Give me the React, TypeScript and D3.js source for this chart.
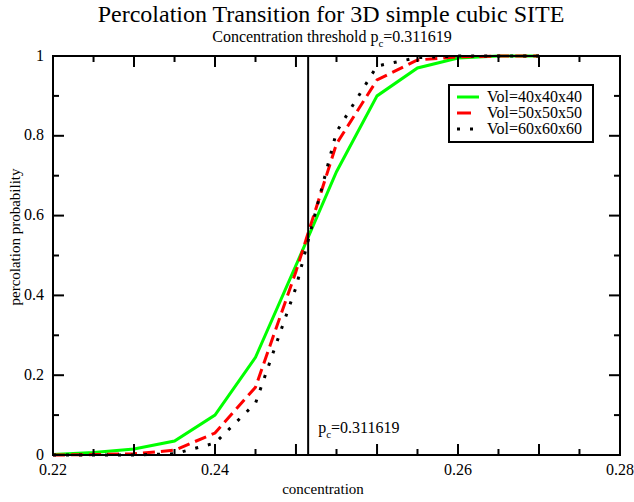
import React from "react";
import * as d3 from "d3";

// ---- data ----
const concentration = [0.22, 0.22429, 0.22857, 0.23286, 0.23714, 0.24143, 0.24571, 0.25, 0.25429, 0.25857, 0.26286, 0.26714, 0.27143];
const vol40 = [0.001, 0.006, 0.015, 0.035, 0.1, 0.245, 0.475, 0.71, 0.9, 0.97, 0.995, 1.0, 1.0];
const vol50 = [0.0, 0.001, 0.003, 0.012, 0.055, 0.17, 0.46, 0.78, 0.94, 0.99, 0.998, 1.0, 1.0];
const vol60 = [0.0, 0.0, 0.0, 0.003, 0.03, 0.13, 0.42, 0.81, 0.975, 0.996, 1.0, 1.0, 1.0];
const seriesNames = ["Vol=40x40x40", "Vol=50x50x50", "Vol=60x60x60"];
const xMajorTicks = [0.22, 0.22857, 0.23714, 0.24571, 0.25429, 0.26286, 0.27143, 0.28];
const xMinorTicks = [0.22429, 0.23286, 0.24143, 0.25, 0.25857, 0.26714, 0.27571];
const xLabelTicks = [0.22, 0.23714, 0.26286, 0.28];
const yMajorTicks = [0, 0.2, 0.4, 0.6, 0.8, 1];
const yMinorTicks = [0.1, 0.3, 0.5, 0.7, 0.9];
const thresholdLine = 0.247;
const titleText = "Percolation Transition for 3D simple cubic SITE";
const subtitleText = "Concentration threshold p";
const pcValue = "=0.311619";

const W = 634, H = 502;
const L = 53, R = 620, T = 56, B = 455;
const FONT = "'Liberation Serif', 'Times New Roman', serif";

export default function App() {
  const x = d3.scaleLinear().domain([0.22, 0.28]).range([L, R]);
  const y = d3.scaleLinear().domain([0, 1]).range([B, T]);
  const fmtX = d3.format(".2f");
  const line = d3.line<number>().x((_, i) => x(concentration[i])).y((d) => y(d));

  const series = [
    { name: seriesNames[0], values: vol40, color: "#00ff00", dash: undefined as string | undefined },
    { name: seriesNames[1], values: vol50, color: "#ff0000", dash: "12 6" },
    { name: seriesNames[2], values: vol60, color: "#000000", dash: "3 10" },
  ];

  const majorLen = 11, minorLen = 6;

  return (
    <svg width={W} height={H} style={{ position: "absolute", left: 0, top: 0, background: "#fff" }} fontFamily={FONT}>
      <rect x={0} y={0} width={W} height={H} fill="#fff" />
      {/* title */}
      <text x={331} y={22} fontSize={24} textAnchor="middle">{titleText}</text>
      <text x={332} y={42} fontSize={16} textAnchor="middle">
        {subtitleText}
        <tspan fontSize={11} dy={5}>c</tspan>
        <tspan dy={-5}>{pcValue}</tspan>
      </text>

      {/* series */}
      {series.map((s) => (
        <path key={s.name} d={line(s.values) || ""} fill="none" stroke={s.color} strokeWidth={3}
          strokeDasharray={s.dash} strokeLinejoin="miter" />
      ))}

      {/* threshold line */}
      <line x1={x(thresholdLine)} x2={x(thresholdLine)} y1={T} y2={B} stroke="#000" strokeWidth={2} />
      <text x={x(thresholdLine) + 10} y={433} fontSize={16}>
        p<tspan fontSize={11} dy={5}>c</tspan><tspan dy={-5}>{pcValue}</tspan>
      </text>

      {/* ticks */}
      {xMajorTicks.map((t) => (
        <g key={"xM" + t}>
          <line x1={x(t)} x2={x(t)} y1={B} y2={B - majorLen} stroke="#000" strokeWidth={2} />
          <line x1={x(t)} x2={x(t)} y1={T} y2={T + majorLen} stroke="#000" strokeWidth={2} />
        </g>
      ))}
      {xMinorTicks.map((t) => (
        <g key={"xm" + t}>
          <line x1={x(t)} x2={x(t)} y1={B} y2={B - minorLen} stroke="#000" strokeWidth={2} />
          <line x1={x(t)} x2={x(t)} y1={T} y2={T + minorLen} stroke="#000" strokeWidth={2} />
        </g>
      ))}
      {yMajorTicks.map((t) => (
        <g key={"yM" + t}>
          <line x1={L} x2={L + majorLen} y1={y(t)} y2={y(t)} stroke="#000" strokeWidth={2} />
          <line x1={R} x2={R - majorLen} y1={y(t)} y2={y(t)} stroke="#000" strokeWidth={2} />
          <text x={44} y={y(t) - 1} fontSize={16} textAnchor="end" dominantBaseline="central">{String(t)}</text>
        </g>
      ))}
      {yMinorTicks.map((t) => (
        <g key={"ym" + t}>
          <line x1={L} x2={L + minorLen} y1={y(t)} y2={y(t)} stroke="#000" strokeWidth={2} />
          <line x1={R} x2={R - minorLen} y1={y(t)} y2={y(t)} stroke="#000" strokeWidth={2} />
        </g>
      ))}
      {xLabelTicks.map((t) => (
        <text key={"xl" + t} x={x(t)} y={475} fontSize={16} textAnchor="middle">{fmtX(t)}</text>
      ))}

      {/* frame */}
      <rect x={L} y={T} width={R - L} height={B - T} fill="none" stroke="#000" strokeWidth={2} />

      {/* axis labels */}
      <text x={323} y={494} fontSize={15} textAnchor="middle">concentration</text>
      <text transform={`translate(20,237) rotate(-90)`} fontSize={15} textAnchor="middle">percolation probability</text>

      {/* legend */}
      <rect x={449} y={85} width={144} height={57} fill="#fff" stroke="#000" strokeWidth={2} />
      {series.map((s, i) => (
        <g key={"lg" + s.name}>
          <line x1={457} x2={i === 1 ? 471 : 479} y1={97 + i * 16} y2={97 + i * 16} stroke={s.color} strokeWidth={3}
            strokeDasharray={i === 2 ? s.dash : undefined} />
          <text x={487} y={102 + i * 16} fontSize={16}>{s.name}</text>
        </g>
      ))}
    </svg>
  );
}
